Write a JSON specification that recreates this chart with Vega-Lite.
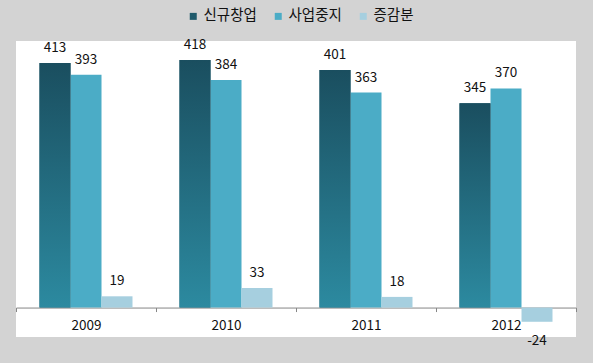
{
  "$schema": "https://vega.github.io/schema/vega-lite/v6.json",
  "width": 560,
  "height": 296,
  "autosize": {"type": "none"},
  "padding": {"left": 16, "top": 41, "right": 17, "bottom": 26},
  "background": "#d3d3d3",
  "config": {
    "view": {"fill": "white", "stroke": null},
    "font": "Noto Sans CJK KR"
  },
  "data": {
    "values": [
      {"year": "2009", "series": "신규창업", "value": 413},
      {"year": "2009", "series": "사업중지", "value": 393},
      {"year": "2009", "series": "증감분", "value": 19},
      {"year": "2010", "series": "신규창업", "value": 418},
      {"year": "2010", "series": "사업중지", "value": 384},
      {"year": "2010", "series": "증감분", "value": 33},
      {"year": "2011", "series": "신규창업", "value": 401},
      {"year": "2011", "series": "사업중지", "value": 363},
      {"year": "2011", "series": "증감분", "value": 18},
      {"year": "2012", "series": "신규창업", "value": 345},
      {"year": "2012", "series": "사업중지", "value": 370},
      {"year": "2012", "series": "증감분", "value": -24}
    ]
  },
  "encoding": {
    "x": {
      "field": "year",
      "type": "nominal",
      "scale": {"paddingInner": 0, "paddingOuter": 0},
      "axis": {
        "title": null,
        "labelAngle": 0,
        "tickBand": "extent",
        "offset": -29.45,
        "domainColor": "#868686",
        "tickColor": "#868686",
        "tickSize": 4,
        "labelFontSize": 13.5,
        "labelColor": "#111111",
        "labelPadding": 7,
        "labelFont": "Noto Sans CJK KR"
      }
    },
    "xOffset": {
      "field": "series",
      "type": "nominal",
      "sort": ["신규창업", "사업중지", "증감분"],
      "scale": {"paddingInner": 0, "paddingOuter": 0.758}
    },
    "y": {
      "field": "value",
      "type": "quantitative",
      "scale": {"domain": [-49.7, 450], "nice": false, "zero": false},
      "axis": null
    }
  },
  "layer": [
    {
      "mark": {"type": "bar"},
      "encoding": {
        "color": {
          "field": "series",
          "type": "nominal",
          "scale": {
            "domain": ["신규창업", "사업중지", "증감분"],
            "range": ["#1f5a6b", "#4bacc6", "#a6cfdf"]
          },
          "legend": {
            "title": null,
            "orient": "none",
            "legendX": 170,
            "legendY": -32,
            "direction": "horizontal",
            "columns": 3,
            "symbolType": "square",
            "symbolSize": 49,
            "symbolStrokeWidth": 0,
            "labelFontSize": 14.5,
            "labelFont": "Noto Sans CJK KR",
            "labelColor": "#111111",
            "labelOffset": 3,
            "columnPadding": 14,
            "padding": 0
          }
        }
      }
    },
    {
      "transform": [{"filter": "datum.series === '신규창업'"}],
      "mark": {
        "type": "bar",
        "color": {
          "gradient": "linear",
          "x1": 0, "y1": 0, "x2": 0, "y2": 1,
          "stops": [
            {"offset": 0, "color": "#1a4e5f"},
            {"offset": 1, "color": "#2c8aa0"}
          ]
        }
      }
    },
    {
      "transform": [{"filter": "datum.value >= 0"}],
      "mark": {"type": "text", "baseline": "middle", "dy": -15, "fontSize": 13.5, "color": "#111111"},
      "encoding": {"text": {"field": "value", "type": "nominal"}}
    },
    {
      "transform": [{"filter": "datum.value < 0"}],
      "mark": {"type": "text", "baseline": "middle", "dy": 19, "fontSize": 13.5, "color": "#111111"},
      "encoding": {"text": {"field": "value", "type": "nominal"}}
    }
  ]
}
